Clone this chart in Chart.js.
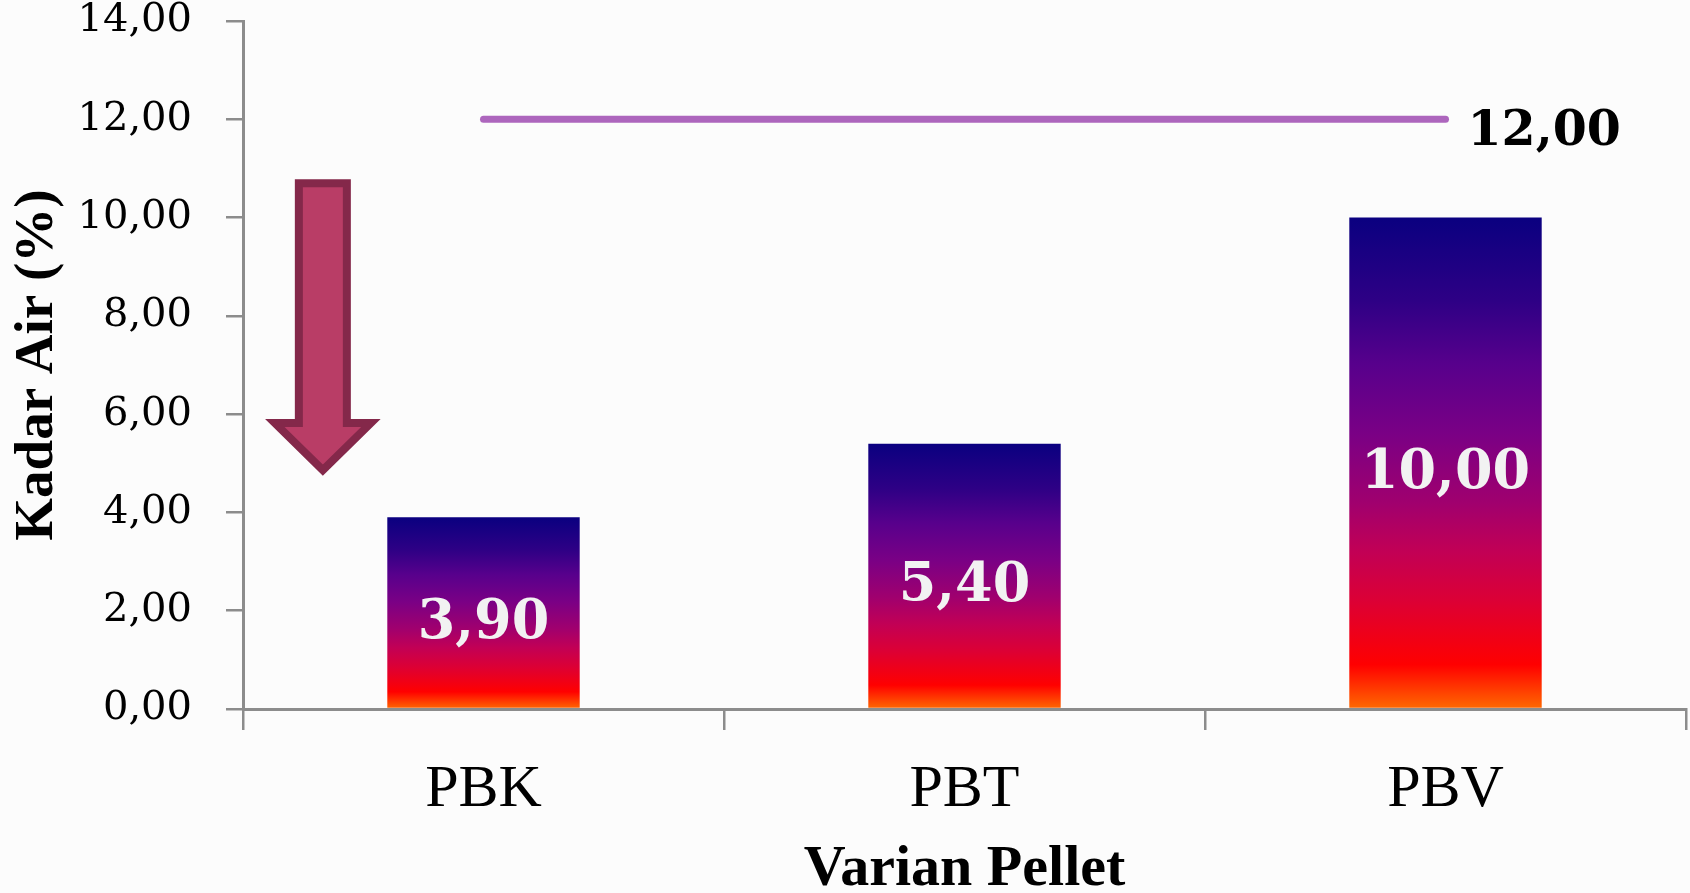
<!DOCTYPE html>
<html>
<head>
<meta charset="utf-8">
<title>Kadar Air Pellet</title>
<script src="https://cdn.jsdelivr.net/npm/chart.js@4.4.1/dist/chart.umd.min.js"></script>
<style>
  html, body { margin: 0; padding: 0; background: #fcfcfc; }
  #wrap { width: 1690px; height: 893px; position: relative; }
</style>
</head>
<body>
<div id="wrap"><canvas id="c" width="1690" height="893"></canvas></div>
<script>
// Moisture content per pellet variant (%)
const categories = ['PBK', 'PBT', 'PBV'];
const kadarAir = [3.90, 5.40, 10.00];
// Maximum moisture standard (%)
const batasMaks = [12.00, 12.00, 12.00];
const yTicks = [0, 2, 4, 6, 8, 10, 12, 14];

// Downward arrow beside the first bar, in axis units
const arrowSpec = { xIndex: -0.334, top: 10.70, headBase: 5.82, tip: 4.86 };

const fmt = v => v.toFixed(2).replace('.', ',');

const numFont = 'DejaVu Serif';
const textFont = 'Liberation Serif';

function barGradient(ctx) {
  const chart = ctx.chart;
  if (!chart.chartArea || ctx.raw == null) return '#7a0085';
  const ys = chart.scales.y;
  const top = ys.getPixelForValue(ctx.raw);
  const base = ys.getPixelForValue(0);
  const g = chart.ctx.createLinearGradient(0, top, 0, base);
  g.addColorStop(0.00, '#0a0080');
  g.addColorStop(0.17, '#2e0085');
  g.addColorStop(0.30, '#58008c');
  g.addColorStop(0.44, '#7a0085');
  g.addColorStop(0.58, '#a0006e');
  g.addColorStop(0.68, '#c20055');
  g.addColorStop(0.78, '#dc0035');
  g.addColorStop(0.91, '#ff0000');
  g.addColorStop(1.00, '#ff6a00');
  return g;
}

// Value labels inside bars and at the end of the standard line
const valueLabels = {
  id: 'valueLabels',
  afterDatasetsDraw(chart) {
    const ctx = chart.ctx;
    ctx.save();
    const barMeta = chart.getDatasetMeta(0);
    const size = 54;
    ctx.font = 'bold ' + size + 'px "' + numFont + '"';
    ctx.fillStyle = '#f2f2f2';
    ctx.textAlign = 'center';
    ctx.textBaseline = 'alphabetic';
    barMeta.data.forEach((el, i) => {
      const mid = (el.y + el.base) / 2;
      ctx.fillText(fmt(kadarAir[i]), el.x, mid + 0.3645 * size + 6);
    });
    const lineMeta = chart.getDatasetMeta(1);
    const last = lineMeta.data[lineMeta.data.length - 1];
    const s2 = 49;
    ctx.font = 'bold ' + s2 + 'px "' + numFont + '"';
    ctx.fillStyle = '#000000';
    ctx.textAlign = 'left';
    ctx.fillText(fmt(batasMaks[batasMaks.length - 1]), last.x + 22, last.y + 8 + 0.3645 * s2);
    ctx.restore();
  }
};

// Block arrow pointing down towards the lowest bar
const downArrow = {
  id: 'downArrow',
  afterDatasetsDraw(chart) {
    const ctx = chart.ctx;
    const xs = chart.scales.x, ys = chart.scales.y;
    const cx = xs.getPixelForValue(arrowSpec.xIndex);
    const yTop = ys.getPixelForValue(arrowSpec.top);
    const yHead = ys.getPixelForValue(arrowSpec.headBase);
    const yTip = ys.getPixelForValue(arrowSpec.tip);
    const shaft = 24, head = 48;
    ctx.save();
    ctx.beginPath();
    ctx.moveTo(cx - shaft, yTop);
    ctx.lineTo(cx + shaft, yTop);
    ctx.lineTo(cx + shaft, yHead);
    ctx.lineTo(cx + head, yHead);
    ctx.lineTo(cx, yTip);
    ctx.lineTo(cx - head, yHead);
    ctx.lineTo(cx - shaft, yHead);
    ctx.closePath();
    ctx.fillStyle = '#b93d66';
    ctx.fill();
    ctx.lineWidth = 8;
    ctx.lineJoin = 'miter';
    ctx.strokeStyle = '#84284a';
    ctx.stroke();
    ctx.restore();
  }
};

const axisGrey = '#8c8c8c';

new Chart(document.getElementById('c'), {
  data: {
    labels: categories,
    datasets: [
      {
        type: 'bar',
        label: 'Kadar Air',
        data: kadarAir,
        backgroundColor: barGradient,
        borderWidth: 0,
        categoryPercentage: 1.0,
        barPercentage: 0.4,
        order: 2
      },
      {
        type: 'line',
        label: 'Batas maksimum',
        data: batasMaks,
        borderColor: '#ad66bd',
        borderWidth: 7,
        borderCapStyle: 'round',
        pointRadius: 0,
        pointHoverRadius: 0,
        fill: false,
        order: 1
      }
    ]
  },
  options: {
    responsive: false,
    animation: false,
    layout: { padding: { top: 21, right: 4, left: 0, bottom: 0 } },
    plugins: {
      legend: { display: false },
      tooltip: { enabled: false }
    },
    scales: {
      x: {
        offset: true,
        grid: {
          offset: true,
          drawOnChartArea: false,
          drawTicks: true,
          tickLength: 21,
          color: axisGrey,
          lineWidth: 2.5
        },
        border: { color: axisGrey, width: 3 },
        ticks: {
          color: '#000000',
          padding: 24,
          font: { family: textFont, size: 60 }
        },
        title: {
          display: true,
          text: 'Varian Pellet',
          color: '#000000',
          padding: { top: 0, bottom: 0 },
          font: { family: textFont, size: 58, weight: 'bold', lineHeight: 0.8 }
        },
        afterFit(scale) { scale.height = 184; }
      },
      y: {
        min: 0,
        max: 14,
        afterBuildTicks(scale) { scale.ticks = yTicks.map(v => ({ value: v })); },
        grid: {
          drawOnChartArea: false,
          drawTicks: true,
          tickLength: 17,
          color: axisGrey,
          lineWidth: 2.5
        },
        border: { color: axisGrey, width: 3 },
        ticks: {
          color: '#000000',
          padding: 34,
          font: { family: numFont, size: 40, lineHeight: 1 },
          callback: v => fmt(v)
        },
        title: {
          display: true,
          text: 'Kadar Air (%)',
          color: '#000000',
          padding: { top: 10, bottom: 0 },
          font: { family: textFont, size: 55, weight: 'bold', lineHeight: 1 }
        },
        afterFit(scale) {
          scale.width = 243;
          scale.paddingTop = 0;
          scale.paddingBottom = 0;
        }
      }
    }
  },
  plugins: [downArrow, valueLabels]
});
</script>
</body>
</html>
